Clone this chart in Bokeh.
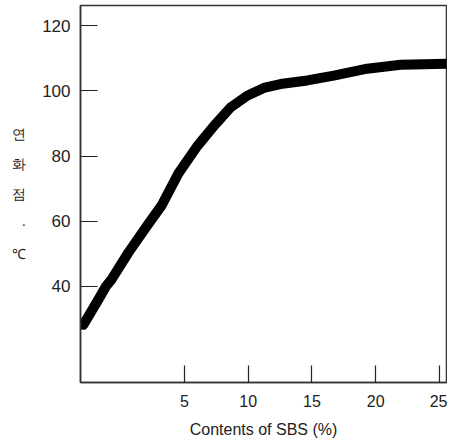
from bokeh.plotting import figure
from bokeh.models import FixedTicker, Range1d, ColumnDataSource
from bokeh.embed import file_html
from bokeh.resources import INLINE

# data
sbs_content = [-2.92, -1.74, -1.14, -0.70, 0.61, 2.05, 3.22, 4.53, 6.0, 7.30, 8.61,
               9.92, 11.22, 12.53, 14.63, 16.71, 19.33, 21.95, 25.6]
softening_point = [28.2, 36.0, 40.1, 42.2, 50.4, 58.5, 64.9, 74.7, 83.0, 89.2, 94.9,
                   98.5, 100.9, 102.1, 103.2, 104.7, 106.8, 108.0, 108.3]
x_ticks = [5, 10, 15, 20, 25]
y_ticks = [40, 60, 80, 100, 120]
x_title = "Contents of SBS (%)"
y_title_chars = ["연", "화", "점", "·", "℃"]

src = ColumnDataSource(dict(x=sbs_content, y=softening_point))

p = figure(width=447, height=442, output_backend="svg", toolbar_location=None, title=None,
           x_range=Range1d(-3.15, 25.55), y_range=Range1d(10.5, 126.2),
           min_border_left=80, min_border_right=1, min_border_top=5, min_border_bottom=60)

p.line("x", "y", source=src, line_color="black", line_width=10, line_cap="round", line_join="round")

p.grid.visible = False
p.outline_line_color = "#333333"
p.outline_line_width = 1.5

for ax in (p.xaxis[0], p.yaxis[0]):
    ax.axis_line_color = "#333333"
    ax.axis_line_width = 1.5
    ax.major_tick_in = 17
    ax.major_tick_out = 0
    ax.major_tick_line_color = "#222222"
    ax.major_tick_line_width = 1.2
    ax.minor_tick_line_color = None
    ax.major_label_text_font = "Liberation Sans"
    ax.major_label_text_color = "#222222"

p.xaxis.ticker = FixedTicker(ticks=x_ticks)
p.yaxis.ticker = FixedTicker(ticks=y_ticks)
p.xaxis.major_label_text_font_size = "16px"
p.yaxis.major_label_text_font_size = "17px"
p.xaxis.major_label_standoff = 12
p.yaxis.major_label_standoff = 10

p.xaxis.axis_label = x_title
p.xaxis.axis_label_text_font = "Liberation Sans"
p.xaxis.axis_label_text_font_style = "normal"
p.xaxis.axis_label_text_font_size = "16px"
p.xaxis.axis_label_text_color = "#222222"
p.xaxis.axis_label_standoff = 11

p.yaxis.axis_label = "\n".join(y_title_chars)
p.yaxis.axis_label_orientation = "horizontal"
p.yaxis.axis_label_text_font = "Liberation Sans"
p.yaxis.axis_label_text_font_style = "normal"
p.yaxis.axis_label_text_font_size = "14px"
p.yaxis.axis_label_text_line_height = 1.86
p.yaxis.axis_label_text_color = "#222222"
p.yaxis.axis_label_standoff = 13

open("out.html", "w").write(file_html(p, INLINE))
